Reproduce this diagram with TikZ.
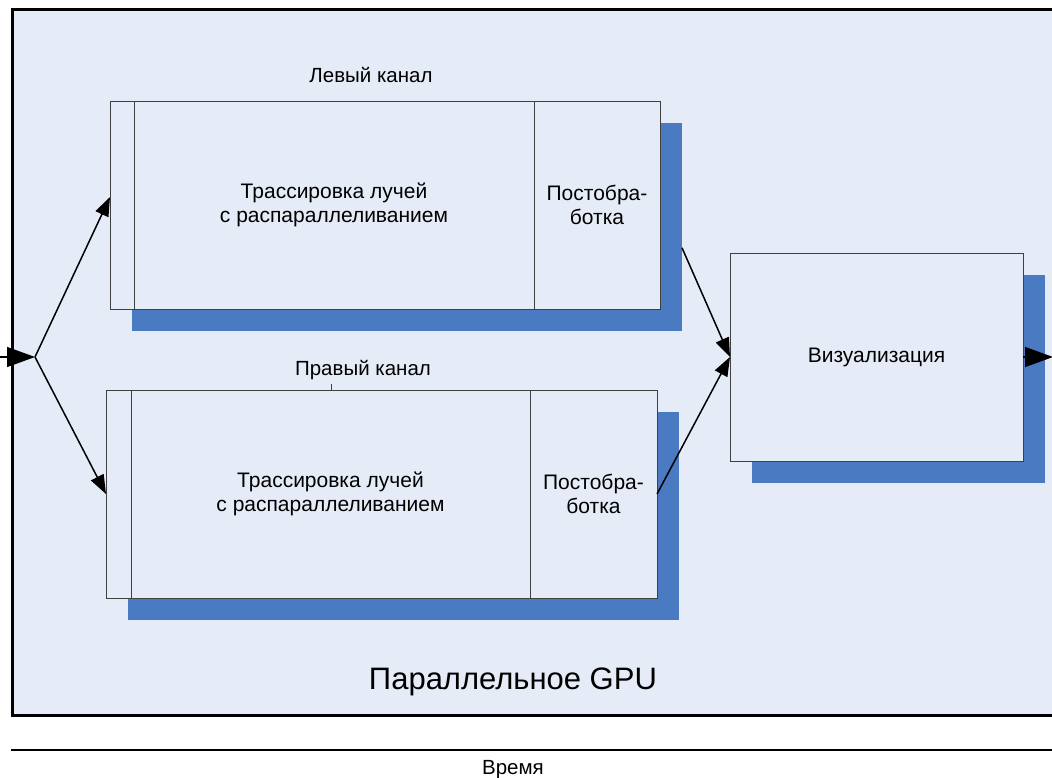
\documentclass[tikz,border=0pt]{standalone}
\usepackage{fontspec}
\setmainfont{Liberation Sans}
\usepackage{tikz}
\usetikzlibrary{arrows.meta,positioning,calc,fit,backgrounds}
\definecolor{panel}{HTML}{E6ECF7}
\definecolor{shade}{HTML}{4A7AC2}
\definecolor{edge}{HTML}{404040}

\begin{document}
\begin{tikzpicture}[x=1pt,y=-1pt,
  box/.style={draw=edge,line width=0.9pt,fill=panel,outer sep=0pt,inner sep=2pt,
    minimum height=208,align=center,font=\fontsize{21}{24}\selectfont},
  shd/.style={fill=shade,draw=none,inner sep=0pt,outer sep=0pt},
  lbl/.style={font=\fontsize{20.5}{24}\selectfont},
  arr/.style={line width=1.5pt,-{Triangle[length=19pt,width=14pt]}},
  bigarr/.style={line width=1.5pt,-{Triangle[length=28pt,width=20pt]}}
]
  \useasboundingbox (0,0) rectangle (1052,778);
  \begin{scope}[on background layer]
    \draw[line width=3pt,fill=panel] (12,10) rectangle (1070,715);
  \end{scope}
  % left channel
  \node[box,minimum width=24]                 (ls) at (122,205) {};
  \node[box,minimum width=400,right=0pt of ls] (lt) {Трассировка лучей\\с распараллеливанием};
  \node[box,minimum width=126,right=0pt of lt] (lp) {Постобра-\\ботка};
  \node[lbl] (lname) at (371,75) {Левый канал};
  % right channel
  \node[box,minimum width=25]                 (rs) at (118.5,494) {};
  \node[box,minimum width=399,right=0pt of rs] (rt) {Трассировка лучей\\с распараллеливанием};
  \node[box,minimum width=127,right=0pt of rt] (rp) {Постобра-\\ботка};
  \node[lbl] (rname) at (363,370) {Правый канал};
  \draw[edge,line width=0.8pt] (331,384) -- (331,390);
  % visualization
  \node[box,minimum width=293] (vis) at (876.5,357) {Визуализация};
  % shadows
  \begin{scope}[on background layer]
    \node[shd,fit={($(ls.north west)+(22,22)$) ($(lp.south east)+(22,22)$)}] (lsh) {};
    \node[shd,fit={($(rs.north west)+(22,22)$) ($(rp.south east)+(22,22)$)}] (rsh) {};
    \node[shd,fit={($(vis.north west)+(22,22)$) ($(vis.south east)+(22,22)$)}] (vsh) {};
  \end{scope}
  \node[font=\fontsize{31}{36}\selectfont] (gpu) at (513,682) {Параллельное GPU};
  \node[lbl] (time) at (513,770) {Время};
  \draw[line width=2.2pt] (11,750) -- (1052,750);
  % connectors
  \coordinate (in) at (0,357);
  \coordinate (fork) at (35,357);
  \coordinate (out) at (1053,357);
  \draw[bigarr] (in) -- (fork);
  \draw[arr] (fork) -- ([yshift=8pt]ls.west);
  \draw[arr] (fork) -- (rs.west);
  \draw[arr] ($(lsh.north east)!0.6!(lsh.south east)$) -- (vis.west);
  \draw[arr] (rp.east) -- (vis.west);
  \draw[bigarr] (vis.east) -- (out);
\end{tikzpicture}
\end{document}
